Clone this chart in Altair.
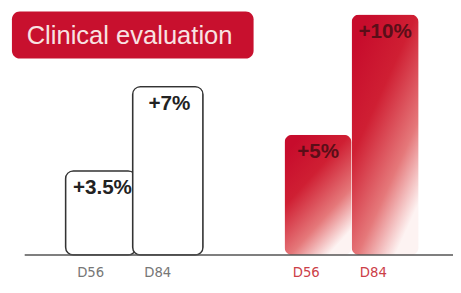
import altair as alt
import pandas as pd

groups = ["Reference", "Treated"]
days = ["D56", "D84"]
group_col = ["Reference", "Reference", "Treated", "Treated"]
day_col = ["D56", "D84", "D56", "D84"]
values = [3.5, 7, 5, 10]
labels = ["+3.5%", "+7%", "+5%", "+10%"]
title_text = "Clinical evaluation"

df = pd.DataFrame({"group": group_col, "day": day_col, "value": values, "label": labels})

x_enc = alt.X("group:N", scale=alt.Scale(domain=groups, range=[45, 401], paddingInner=0.378, paddingOuter=0),
              axis=alt.Axis(labels=False, ticks=False, title=None, domain=False))
xo_enc = alt.XOffset("day:N", scale=alt.Scale(domain=days, paddingInner=0.0, paddingOuter=0))
y_enc = alt.Y("value:Q", scale=alt.Scale(domain=[0, 10], nice=False), axis=None)

base = alt.Chart(df).encode(x=x_enc, xOffset=xo_enc, y=y_enc)

baseline = alt.Chart(pd.DataFrame({"v": [0]})).mark_rule(color="#555", strokeWidth=1.5).encode(
    y=alt.Y("v:Q", scale=alt.Scale(domain=[0, 10], nice=False), axis=None))

white_bars = base.transform_filter(alt.datum.group == "Reference").mark_bar(
    fill="white", stroke="#333", strokeWidth=1.4, cornerRadius=8, width=alt.RelativeBandSize(1.05))

grad = alt.Gradient(
    gradient="linear", x1=0.1, y1=0.1, x2=0.65, y2=1,
    stops=[alt.GradientStop(color="#c70c2c", offset=0),
           alt.GradientStop(color="#cf1f33", offset=0.35),
           alt.GradientStop(color="#e5787a", offset=0.72),
           alt.GradientStop(color="#fdf3f2", offset=1)])
red_bars = base.transform_filter(alt.datum.group == "Treated").mark_bar(
    fill=grad, cornerRadius=8, width=alt.RelativeBandSize(1.0))

bar_labels = base.mark_text(baseline="middle", dy=18, fontSize=21, fontWeight="bold",
                            font="Liberation Sans").encode(
    text="label:N",
    color=alt.condition(alt.datum.group == "Treated", alt.value("#5a0e18"), alt.value("#222")))

day_labels = alt.Chart(df).mark_text(baseline="middle", dy=17, dx=-12, fontSize=15,
                                     font="DejaVu Sans Condensed").encode(
    x=x_enc, xOffset=xo_enc, y=alt.datum(0),
    text="day:N",
    color=alt.condition(alt.datum.group == "Treated", alt.value("#cc4048"), alt.value("#777")))

tdf = pd.DataFrame({"t": [title_text]})
title_box = alt.Chart(tdf).mark_rect(fill="#c8102e", cornerRadius=8).encode(
    x=alt.value(-13), x2=alt.value(233), y=alt.value(-3), y2=alt.value(45))
title_lbl = alt.Chart(tdf).mark_text(align="left", baseline="middle", fontSize=26,
                                     font="Liberation Sans", color="#f8e2e2").encode(
    x=alt.value(2), y=alt.value(22), text="t:N")

chart = alt.layer(white_bars, red_bars, baseline, bar_labels, day_labels, title_box, title_lbl).properties(
    width=436, height=245,
    padding={"left": 17, "top": 4, "right": 0, "bottom": 28},
    autosize=alt.AutoSizeParams(type="none"),
).configure_view(stroke=None)

chart.save("out.html", embed_options={"renderer": "svg", "actions": False})
